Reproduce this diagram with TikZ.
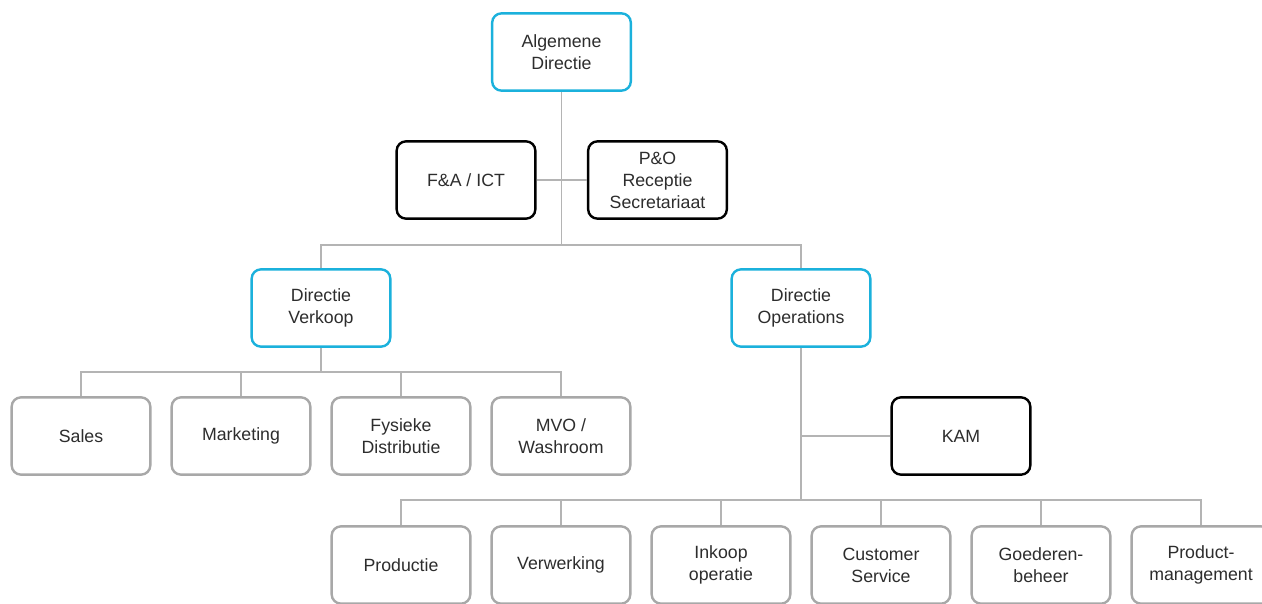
\documentclass[tikz,border=0pt]{standalone}
\usepackage{fontspec}
\setmainfont{Liberation Sans}
\usepackage{tikz}

\definecolor{kadercyaan}{RGB}{27,177,220}
\definecolor{kadergrijs}{RGB}{168,168,168}
\definecolor{lijngrijs}{RGB}{180,180,180}
\definecolor{tekstgrijs}{RGB}{45,45,45}

\tikzset{
	afd/.style={draw, rounded corners=7pt, line width=1.8pt, fill=white,
		minimum width=104pt, minimum height=58pt, align=center, inner sep=0.75pt,
		text=tekstgrijs, font=\fontsize{13.3}{16.5}\selectfont},
	directie/.style={afd, draw=kadercyaan},
	staf/.style={afd, draw=black},
	team/.style={afd, draw=kadergrijs},
	conn/.style={draw=lijngrijs, line width=1.4pt}
}

\begin{document}
\begin{tikzpicture}[x=0.75pt,y=0.75pt,yscale=-1,xscale=1]
	\useasboundingbox (0,0) rectangle (1262,603);
	\clip (0,0) rectangle (1262,603);
	
	% Directie
	\draw (561.5,52) node [directie] (alg) {Algemene\\Directie};
	\draw (466,180) node [staf] (fa) {F\&A / ICT};
	\draw (657.5,180) node [staf] (po) {P\&O\\Receptie\\Secretariaat};
	\draw (321,308) node [directie] (verk) {Directie\\Verkoop};
	\draw (801,308) node [directie] (oper) {Directie\\Operations};
	
	% Verkoop
	\draw (81,436) node [team] (sales) {Sales};
	\draw (241,436) node [team] (mark) {Marketing};
	\draw (401,436) node [team] (fys) {Fysieke\\Distributie};
	\draw (561,436) node [team] (mvo) {MVO /\\Washroom};
	
	% Operations
	\draw (961,436) node [staf] (kam) {KAM};
	\draw (401,565) node [team] (prod) {Productie};
	\draw (561,565) node [team] (verw) {Verwerking};
	\draw (721,565) node [team] (ink) {Inkoop\\operatie};
	\draw (881,565) node [team] (cust) {Customer\\Service};
	\draw (1041,565) node [team] (goed) {Goederen-\\beheer};
	\draw (1201,565) node [team] (pm) {Product-\\management};
	
	% Lijnen
	\coordinate (bus1) at (561.5,245);
	\coordinate (bus2) at (321,372);
	\coordinate (bus3) at (801,500);
	\draw [conn] (alg.south) -- (bus1);
	\draw [conn] (fa.east) -- (po.west);
	\draw [conn] (verk.north) |- (bus1) -| (oper.north);
	\draw [conn] (verk.south) -- (bus2);
	\foreach \n in {sales,mark,fys,mvo}
		\draw [conn] (\n.north) |- (bus2);
	\draw [conn] (oper.south) -- (bus3);
	\draw [conn] (kam.west) -- (kam.west -| oper.south);
	\foreach \n in {prod,verw,ink,cust,goed,pm}
		\draw [conn] (\n.north) |- (bus3);
	
\end{tikzpicture}
\end{document}
